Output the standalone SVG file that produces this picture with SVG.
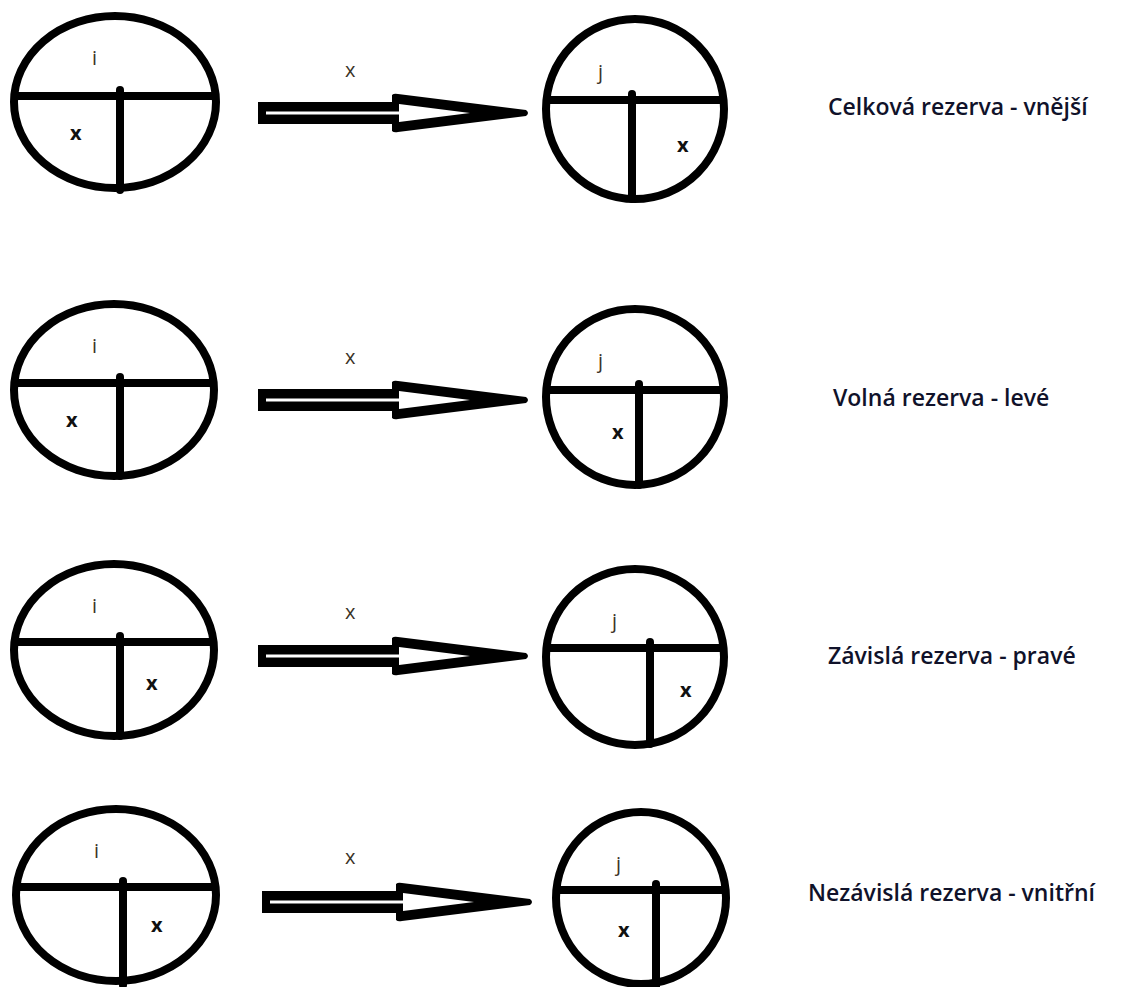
<svg xmlns="http://www.w3.org/2000/svg" width="1141" height="987" viewBox="0 0 1141 987">
  <style>
    .ring { fill: none; stroke: #000; stroke-width: 8; }
    .bar { stroke: #000; stroke-width: 8; stroke-linecap: butt; }
    .stem { stroke: #000; stroke-width: 8; stroke-linecap: round; }
    .lbl { font-family: "Open Sans", "Liberation Sans", sans-serif; font-size: 20px; fill: #3b3326; }
    .val { font-family: "Open Sans", "Liberation Sans", sans-serif; font-size: 20px; font-weight: bold; fill: #111; }
    .cap { font-family: "Open Sans", "Liberation Sans", sans-serif; font-size: 23px; font-weight: 600; fill: #10122a; }
  </style>
  <defs>
    <!-- hollow block arrow: shaft with a thin white core, long tapering head -->
    <g id="arrow">
      <path d="M0,-11 L134,-11 L134,-18 Q136,-20 140,-19 L268,-3 Q272,0 268,3 L140,19 Q136,20 134,18 L134,11 L0,11 Z" fill="#000"/>
      <path d="M8,-1.5 L141,-1.5 L141,-9 L212,0 L141,9 L141,1.5 L8,1.5 Z" fill="#fff"/>
    </g>
  </defs>
  <rect width="1141" height="987" fill="#fff"/>

  <!-- row 1: total float -->
  <g id="node-i-1">
    <ellipse class="ring" cx="115" cy="102" rx="101" ry="86"/>
    <line class="bar" x1="14" y1="96" x2="216" y2="96"/>
    <line class="stem" x1="120" y1="90" x2="120" y2="190"/>
    <text class="lbl" x="92" y="65">i</text>
    <text class="val" x="70" y="140">x</text>
  </g>
  <g id="node-j-1">
    <ellipse class="ring" cx="635" cy="109" rx="89" ry="90"/>
    <line class="bar" x1="546" y1="100" x2="724" y2="100"/>
    <line class="stem" x1="632" y1="94" x2="632" y2="199"/>
    <text class="lbl" x="598" y="79">j</text>
    <text class="val" x="677" y="152">x</text>
  </g>
  <text id="caption-1" class="cap" x="828" y="115">Celková rezerva - vnější</text>

  <!-- row 2: free float -->
  <g id="node-i-2">
    <ellipse class="ring" cx="114" cy="390" rx="100" ry="86"/>
    <line class="bar" x1="14" y1="383" x2="214" y2="383"/>
    <line class="stem" x1="120" y1="377" x2="120" y2="476"/>
    <text class="lbl" x="92" y="353">i</text>
    <text class="val" x="66" y="427">x</text>
  </g>
  <g id="node-j-2">
    <ellipse class="ring" cx="635" cy="397" rx="89" ry="88"/>
    <line class="bar" x1="546" y1="390" x2="724" y2="390"/>
    <line class="stem" x1="639" y1="384" x2="639" y2="485"/>
    <text class="lbl" x="598" y="368">j</text>
    <text class="val" x="612" y="439">x</text>
  </g>
  <text id="caption-2" class="cap" x="833" y="406">Volná rezerva - levé</text>

  <!-- row 3: dependent float -->
  <g id="node-i-3">
    <ellipse class="ring" cx="114" cy="650" rx="100" ry="86"/>
    <line class="bar" x1="14" y1="642" x2="214" y2="642"/>
    <line class="stem" x1="120" y1="636" x2="120" y2="736"/>
    <text class="lbl" x="92" y="613">i</text>
    <text class="val" x="146" y="690">x</text>
  </g>
  <g id="node-j-3">
    <ellipse class="ring" cx="635" cy="657" rx="89" ry="88"/>
    <line class="bar" x1="546" y1="648" x2="724" y2="648"/>
    <line class="stem" x1="650" y1="642" x2="650" y2="744"/>
    <text class="lbl" x="612" y="628">j</text>
    <text class="val" x="680" y="697">x</text>
  </g>
  <text id="caption-3" class="cap" x="828" y="664">Závislá rezerva - pravé</text>

  <!-- row 4: independent float -->
  <g id="node-i-4">
    <ellipse class="ring" cx="116" cy="895" rx="100" ry="86"/>
    <line class="bar" x1="16" y1="887" x2="216" y2="887"/>
    <line class="stem" x1="123" y1="881" x2="123" y2="985"/>
    <text class="lbl" x="94" y="858">i</text>
    <text class="val" x="151" y="932">x</text>
  </g>
  <g id="node-j-4">
    <ellipse class="ring" cx="641" cy="898" rx="85" ry="86"/>
    <line class="bar" x1="556" y1="890" x2="726" y2="890"/>
    <line class="stem" x1="656" y1="884" x2="656" y2="986"/>
    <text class="lbl" x="616" y="871">j</text>
    <text class="val" x="618" y="937">x</text>
  </g>
  <text id="caption-4" class="cap" x="808" y="901">Nezávislá rezerva - vnitřní</text>

  <!-- arrows between event nodes, each with its activity label -->
  <g id="connectors">
    <use href="#arrow" transform="translate(258,113)"/>
    <text class="lbl" x="345" y="77">x</text>
    <use href="#arrow" transform="translate(258,400)"/>
    <text class="lbl" x="345" y="364">x</text>
    <use href="#arrow" transform="translate(258,656)"/>
    <text class="lbl" x="345" y="619">x</text>
    <use href="#arrow" transform="translate(262,902)"/>
    <text class="lbl" x="345" y="864">x</text>
  </g>
</svg>
